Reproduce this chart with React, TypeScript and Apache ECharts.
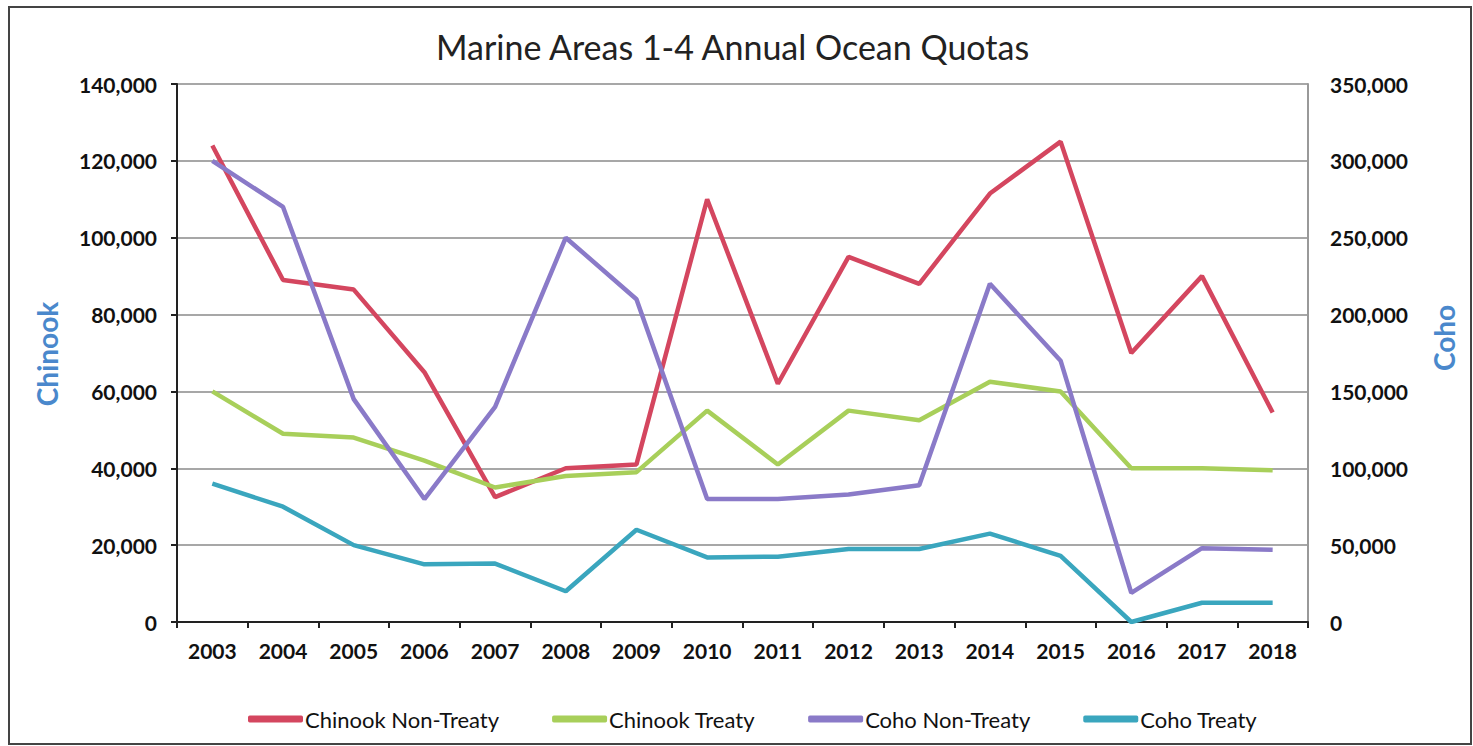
import React, { useEffect, useRef } from "react";
import * as echarts from "echarts";

const years = ["2003","2004","2005","2006","2007","2008","2009","2010","2011","2012","2013","2014","2015","2016","2017","2018"];
const chinookNonTreaty = [124000, 89000, 86500, 65000, 32500, 40000, 41000, 110000, 62000, 95000, 88000, 111500, 125000, 70000, 90000, 54500];
const chinookTreaty = [60000, 49000, 48000, 42000, 35000, 38000, 39000, 55000, 41000, 55000, 52500, 62500, 60000, 40000, 40000, 39500];
const cohoNonTreaty = [300000, 270000, 145000, 80000, 140000, 250000, 210000, 80000, 80000, 83000, 89000, 220000, 170000, 19000, 48000, 47000];
const cohoTreaty = [90000, 75000, 50000, 37500, 38000, 20000, 60000, 42000, 42500, 47500, 47500, 57500, 43000, 0, 12500, 12500];

const FONT = "Lato, 'Open Sans', sans-serif";

export default function App() {
  const ref = useRef<HTMLDivElement>(null);
  useEffect(() => {
    if (!ref.current) return;
    const chart = echarts.init(ref.current, null, { renderer: "svg" });
    const fmt = (v: number) => v.toLocaleString("en-US");
    const lineSeries = (name: string, data: number[], color: string, yAxisIndex: number) => ({
      name,
      type: "line",
      data,
      yAxisIndex,
      symbol: "none",
      lineStyle: { color, width: 4.5 },
      itemStyle: { color },
    });
    chart.setOption({
      animation: false,
      backgroundColor: "#ffffff",
      title: {
        text: "Marine Areas 1-4 Annual Ocean Quotas",
        left: 431,
        top: 24,
        textStyle: { fontFamily: FONT, fontSize: 34, fontWeight: "normal", color: "#222" },
      },
      grid: { left: 177, right: 165, top: 84, bottom: 124 },
      legend: {
        left: 243,
        top: 703,
        itemWidth: 55,
        itemHeight: 7,
        itemGap: 53,
        icon: "roundRect",
        textStyle: { fontFamily: FONT, fontSize: 22, color: "#111", padding: [0, 0, 0, -3] },
        data: ["Chinook Non-Treaty", "Chinook Treaty", "Coho Non-Treaty", "Coho Treaty"],
      },
      xAxis: {
        type: "category",
        data: years,
        boundaryGap: true,
        axisLine: { lineStyle: { color: "#222", width: 2 } },
        axisTick: { show: true, length: 6, lineStyle: { color: "#222", width: 2 } },
        axisLabel: { fontFamily: FONT, fontSize: 21, fontWeight: "bold", color: "#111", margin: 18 },
      },
      yAxis: [
        {
          type: "value",
          min: 0,
          max: 140000,
          interval: 20000,
          position: "left",
          axisLine: { show: true, lineStyle: { color: "#222", width: 2 } },
          axisTick: { show: true, length: 6, lineStyle: { color: "#222", width: 2 } },
          axisLabel: { fontFamily: FONT, fontSize: 21, fontWeight: "bold", color: "#111", margin: 20, formatter: fmt },
          splitLine: { show: true, lineStyle: { color: "#8a8a8a", width: 1.5 } },
        },
        {
          type: "value",
          min: 0,
          max: 350000,
          interval: 50000,
          position: "right",
          axisLine: { show: true, lineStyle: { color: "#999", width: 2 } },
          axisTick: { show: false },
          axisLabel: { fontFamily: FONT, fontSize: 21, fontWeight: "bold", color: "#111", margin: 22, formatter: fmt },
          splitLine: { show: false },
        },
      ],
      graphic: [
        {
          type: "rect",
          shape: { x: 9, y: 7, width: 1462, height: 737 },
          style: { fill: "none", stroke: "#444", lineWidth: 2 },
          silent: true,
          z: -1,
        },
        {
          type: "text",
          x: 47,
          y: 354,
          rotation: Math.PI / 2,
          style: { text: "Chinook", fontFamily: FONT, fontSize: 28, fontWeight: "bold", fill: "#4a88cc", align: "center", verticalAlign: "middle" },
        },
        {
          type: "text",
          x: 1444,
          y: 338,
          rotation: Math.PI / 2,
          style: { text: "Coho", fontFamily: FONT, fontSize: 28, fontWeight: "bold", fill: "#4a88cc", align: "center", verticalAlign: "middle" },
        },
      ],
      series: [
        lineSeries("Chinook Non-Treaty", chinookNonTreaty, "#d4465f", 0),
        lineSeries("Chinook Treaty", chinookTreaty, "#a8cf5a", 0),
        lineSeries("Coho Non-Treaty", cohoNonTreaty, "#8a7ac8", 1),
        lineSeries("Coho Treaty", cohoTreaty, "#3aa6be", 1),
      ],
    });
    return () => chart.dispose();
  }, []);
  return <div ref={ref} style={{ position: "absolute", left: 0, top: 0, width: 1473, height: 746 }} />;
}
